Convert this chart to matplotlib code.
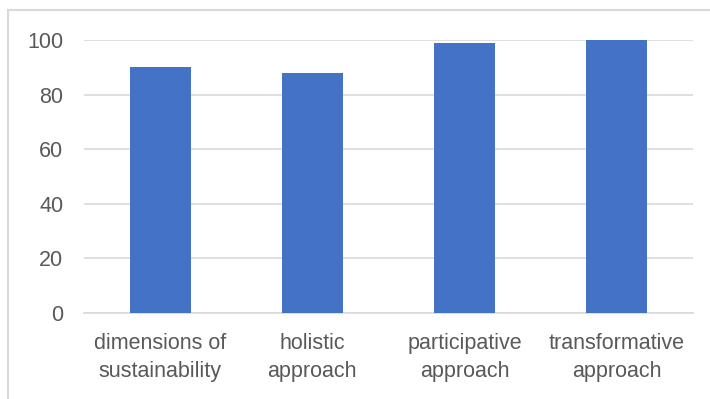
import matplotlib
matplotlib.use("Agg")
import matplotlib.pyplot as plt
from matplotlib.lines import Line2D

categories = ["dimensions of\nsustainability", "holistic\napproach",
              "participative\napproach", "transformative\napproach"]
values = [90, 88, 99, 100]
yticks = [0, 20, 40, 60, 80, 100]

plt.rcParams['font.family'] = ['Liberation Sans', 'DejaVu Sans']

fig = plt.figure(figsize=(7.10, 3.99), dpi=100)
ax = fig.add_axes([84/710, 1-313/399, (693-84)/710, (313-40)/399])

x = range(len(categories))
ax.bar(x, values, width=0.4, color="#4472C4", zorder=3)
ax.set_xlim(-0.5, len(categories) - 0.5)
ax.set_ylim(0, 100)
ax.set_yticks(yticks)
ax.set_xticks(list(x))
ax.set_xticklabels(categories, linespacing=1.45)
ax.yaxis.grid(True, color="#d9d9d9", linewidth=1.2, zorder=0)
ax.set_axisbelow(True)
for s in ["top", "right", "left"]:
    ax.spines[s].set_visible(False)
ax.spines["bottom"].set_color("#d9d9d9")
ax.spines["bottom"].set_linewidth(1.2)
ax.tick_params(axis="both", length=0, labelsize=15.5, labelcolor="#595959")
ax.tick_params(axis="y", pad=15)
ax.tick_params(axis="x", pad=14.5)

# chart border (top and left visible)
fig.add_artist(Line2D([8/710, 8/710], [0, 1-10/399], transform=fig.transFigure,
                      color="#d9d9d9", linewidth=1.5))
fig.add_artist(Line2D([8/710, 1], [1-10/399, 1-10/399], transform=fig.transFigure,
                      color="#d9d9d9", linewidth=1.5))

fig.savefig("out.png", dpi=100)
